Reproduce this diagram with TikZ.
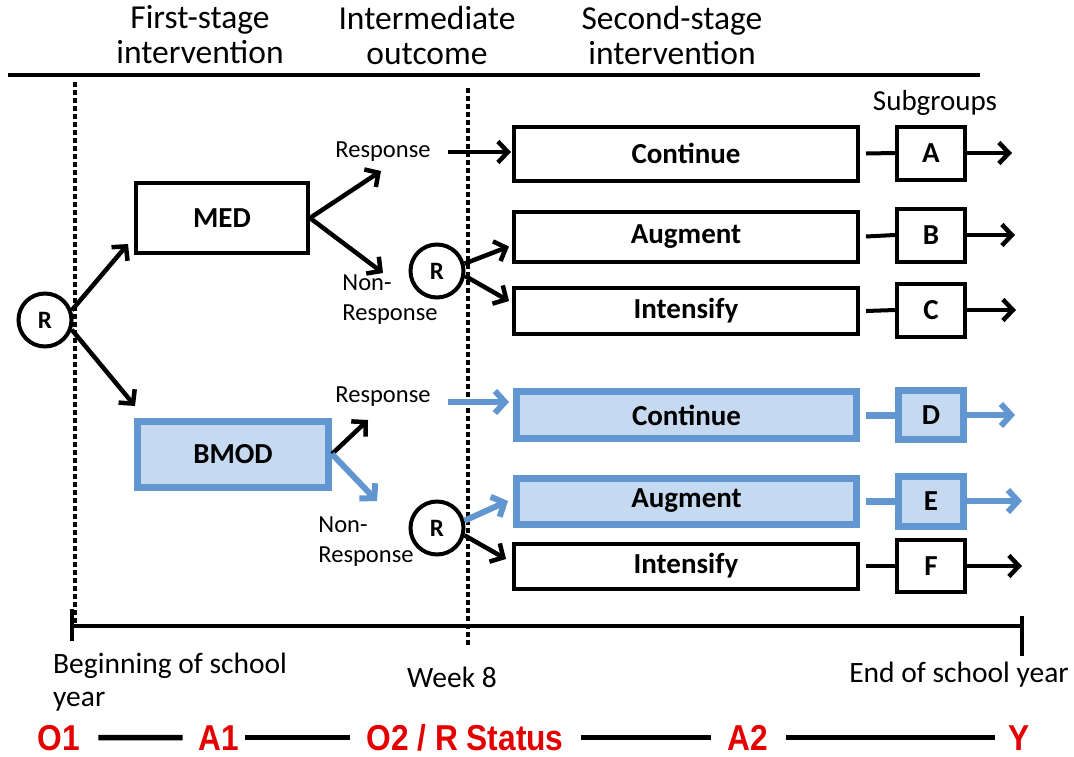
\documentclass[tikz,border=0pt]{standalone}
\usepackage{fontspec}
\setmainfont{Carlito}
\newfontfamily\redfont[FakeStretch=0.88]{Liberation Sans}
\usetikzlibrary{arrows.meta}
\definecolor{myblue}{RGB}{98,150,208}
\definecolor{mylight}{RGB}{197,217,240}
\definecolor{myred}{RGB}{228,0,0}
\tikzset{
  box/.style={draw, line width=4pt, inner sep=0pt, font=\bfseries\fontsize{29}{32}\selectfont},
  bbox/.style={box, draw=myblue, fill=mylight, line width=7pt},
  rc/.style={circle, draw, line width=4pt, minimum size=53pt, inner sep=0pt, font=\bfseries\fontsize{25}{28}\selectfont},
  arr/.style={line width=4.5pt, -{Straight Barb[length=10pt,width=21pt]}},
  barr/.style={line width=6pt, draw=myblue, -{Straight Barb[length=10pt,width=22pt]}},
  conn/.style={line width=4pt},
  bconn/.style={line width=7pt, draw=myblue},
  dotl/.style={line width=4.5pt, dash pattern=on 4.5pt off 3.5pt},
  head/.style={align=center, font=\fontsize{33.5}{35}\selectfont, inner sep=0pt},
  lab/.style={font=\fontsize{24.5}{30}\selectfont, inner sep=0pt},
  tlab/.style={font=\fontsize{29.5}{33}\selectfont, inner sep=0pt},
  rlab/.style={font=\redfont\bfseries\fontsize{36}{38}\selectfont, text=myred, inner sep=0pt, anchor=base},
  rline/.style={line width=5.5pt},
}
\begin{document}
\begin{tikzpicture}[x=1pt,y=-1pt]
\useasboundingbox (0,0) rectangle (1074,756);
% headers
\node[head] (h1) at (200,35) {First-stage\\intervention};
\node[head] (h2) at (427,35) {Intermediate\\outcome};
\node[head] (h3) at (672,35) {Second-stage\\intervention};
\coordinate (tl0) at (8,75);
\coordinate (tl1) at (980,75);
\draw[line width=3.5pt] (tl0) -- (tl1);
\node[lab, font=\fontsize{29}{30}\selectfont] (sg) at (935,103) {Subgroups};
% dotted lines
\coordinate (d1a) at (75,82);
\coordinate (d1b) at (75,626);
\coordinate (d2a) at (468,88);
\coordinate (d2b) at (468,648);
\draw[dotl] (d1a) -- (d1b);
\draw[dotl] (d2a) -- (d2b);
% first stage
\node[rc] (R0) at (45,320) {R};
\node[box, minimum width=172pt, minimum height=70pt] (med) at (222,218) {MED};
\node[bbox, minimum width=191pt, minimum height=66pt] (bmod) at (233,454) {BMOD};
% second stage boxes
\node[box, minimum width=344pt, minimum height=54pt] (cA) at (686,153.5) {Continue};
\node[box, minimum width=344pt, minimum height=50pt] (aB) at (686,236.5) {Augment};
\node[box, minimum width=344pt, minimum height=46pt] (iC) at (686,311) {Intensify};
\node[bbox, minimum width=340pt, minimum height=47pt] (cD) at (686.5,415) {Continue};
\node[bbox, minimum width=340pt, minimum height=46pt] (aE) at (686.5,501) {Augment};
\node[box, minimum width=344pt, minimum height=45pt] (iF) at (686,566) {Intensify};
% subgroup boxes
\node[box, minimum width=68pt, minimum height=53pt] (sA) at (931,153) {A};
\node[box, minimum width=68pt, minimum height=53pt] (sB) at (931,235) {B};
\node[box, minimum width=68pt, minimum height=53pt] (sC) at (931,310) {C};
\node[bbox, minimum width=65pt, minimum height=49pt] (sD) at (931,415) {D};
\node[bbox, minimum width=65pt, minimum height=50pt] (sE) at (931,501) {E};
\node[box, minimum width=68pt, minimum height=52pt] (sF) at (931,566) {F};
% R nodes
\node[rc] (R1) at (437,271) {R};
\node[rc] (R2) at (437,528) {R};
% labels
\node[lab] (resp1) at (383,152) {Response};
\node[lab, align=left] (nr1) at (390,300) {Non-\\Response};
\node[lab] (resp2) at (383,397) {Response};
\node[lab, align=left] (nr2) at (366,542) {Non-\\Response};
% arrow tips and free ends
\coordinate (tMED) at (128,244);
\coordinate (tBM) at (135,406);
\coordinate (mr) at (381,171);
\coordinate (mn) at (383,273);
\coordinate (br) at (368,420);
\coordinate (bn) at (377,501);
\coordinate (r1s) at (448,152);
\coordinate (r2s) at (448,402);
\coordinate (eA) at (1012,153);
\coordinate (eB) at (1015,235);
\coordinate (eC) at (1016,310);
\coordinate (eD) at (1015,415);
\coordinate (eE) at (1022,501);
\coordinate (eF) at (1022,566);
% connectors
\draw[arr] (R0.20) -- (tMED);
\draw[arr] (R0.-20) -- (tBM);
\draw[arr] (med.east) -- (mr);
\draw[arr] (med.east) -- (mn);
\draw[arr] (bmod.east) -- (br);
\draw[barr] (bmod.east) -- (bn);
\draw[arr] (r1s) -- ([xshift=-1pt]r1s -| cA.west);
\draw[barr] (r2s) -- ([xshift=-4pt]r2s -| cD.west);
\draw[arr] (R1.15) -- ([xshift=-3pt,yshift=-10pt]aB.west);
\draw[arr] (R1.-10) -- ([xshift=-3pt,yshift=10pt]iC.west);
\draw[barr] (R2.15) -- ([xshift=-5pt]aE.west);
\draw[arr] (R2.-15) -- ([xshift=-6pt,yshift=7pt]iF.west);
% subgroup links
\draw[conn] ([xshift=6pt]cA.east) -- (sA.west);
\draw[conn] ([xshift=6pt]aB.east) -- (sB.west);
\draw[conn] ([xshift=6pt]iC.east) -- (sC.west);
\draw[bconn] ([xshift=6pt]cD.east) -- (sD.west);
\draw[bconn] ([xshift=6pt]aE.east) -- (sE.west);
\draw[conn] ([xshift=6pt]iF.east) -- (sF.west);
\draw[arr] (sA.east) -- (eA);
\draw[arr] (sB.east) -- (eB);
\draw[arr] (sC.east) -- (eC);
\draw[barr] (sD.east) -- (eD);
\draw[barr] (sE.east) -- (eE);
\draw[arr] (sF.east) -- (eF);
% timeline
\coordinate (ta) at (72,626);
\coordinate (tb) at (1022,626);
\coordinate (ta1) at (72,609);
\coordinate (ta2) at (72,641);
\coordinate (tb1) at (1022,616);
\coordinate (tb2) at (1022,656);
\draw[line width=4pt] (ta) -- (tb);
\draw[line width=4pt] (ta1) -- (ta2);
\draw[line width=4pt] (tb1) -- (tb2);
\node[tlab, align=left, anchor=north west] (beg) at (53,653) {Beginning of school\\year};
\node[tlab] (w8) at (452,677) {Week 8};
\node[tlab] (eoy) at (959,675) {End of school year};
% red row
\node[rlab] (o1) at (59,750) {O1};
\node[rlab] (a1) at (219,750) {A1};
\node[rlab] (o2) at (465,750) {O2 / R Status};
\node[rlab] (a2) at (748,750) {A2};
\node[rlab] (y) at (1019,750) {Y};
\draw[rline] ([xshift=18pt]o1.east) -- ([xshift=-16pt]a1.west);
\draw[rline] ([xshift=6pt]a1.east) -- ([xshift=-16pt]o2.west |- a1.west);
\draw[rline] ([xshift=17pt]o2.east |- a2.west) -- ([xshift=-17pt]a2.west);
\draw[rline] ([xshift=18pt]a2.east) -- ([xshift=-13pt]y.west |- a2.east);
\end{tikzpicture}
\end{document}
